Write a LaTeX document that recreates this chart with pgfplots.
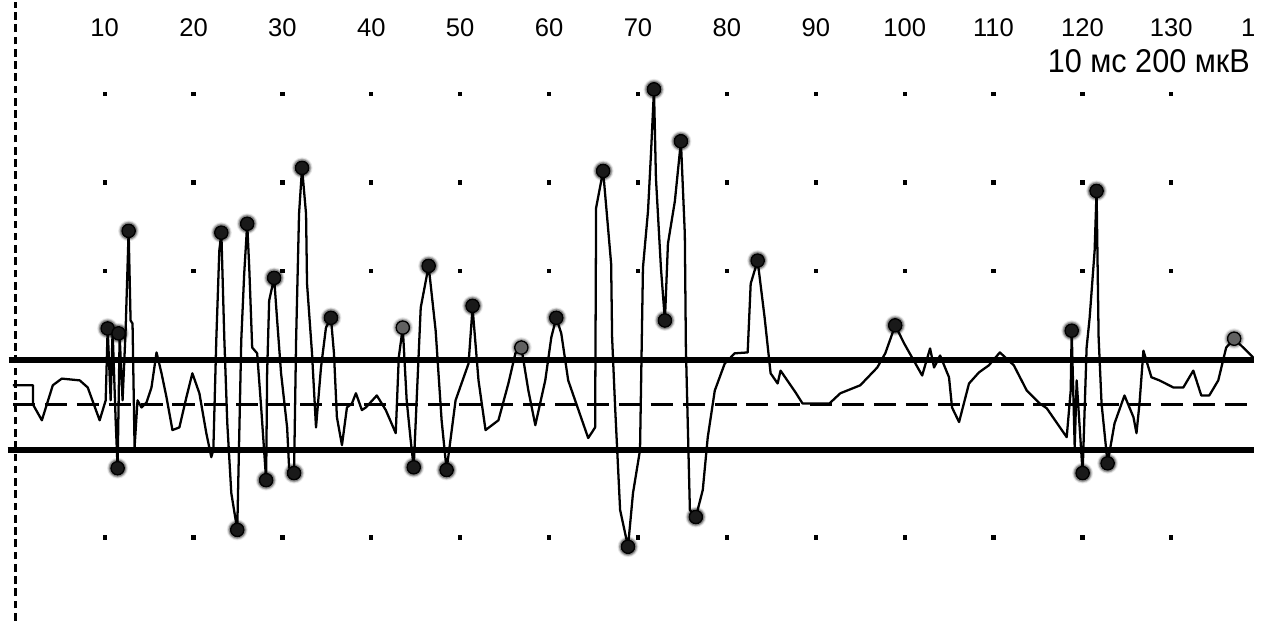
\documentclass[border=0pt]{standalone}
\usepackage{fontspec}
\setmainfont{Liberation Sans}
\usepackage{pgfplots}
\pgfplotsset{compat=1.18}
\usepackage{pgfplotstable}

% EMG trace: t in ms, v in microvolts
\pgfplotstableread{
t v
-0.31 43
1.93 43
1.93 0
2.94 -36
4.17 43
5.18 58
7.20 54
8.10 38
9.44 -36
10.12 9
10.34 171
10.68 9
10.90 166
11.24 -36
11.46 -144
11.69 155
12.02 9
12.36 166
12.70 391
12.92 189
13.14 182
13.37 -97
13.70 9
14.15 -7
14.71 4
15.27 38
15.84 117
16.40 70
16.96 16
17.63 -58
18.41 -52
19.20 16
19.87 70
20.66 25
21.44 -65
22.00 -119
22.23 -103
22.56 144
22.90 346
23.13 387
23.46 151
23.80 -43
24.25 -200
24.92 -283
25.37 144
25.70 294
26.04 407
26.27 308
26.60 128
27.16 115
27.61 -7
28.17 -171
28.28 70
28.51 234
29.07 285
29.41 189
29.85 70
30.53 -52
30.75 -142
31.31 -155
31.54 144
31.87 429
32.21 533
32.66 429
32.77 272
33.33 115
33.78 -52
34.34 83
34.90 173
35.46 195
35.80 115
36.13 -29
36.70 -92
37.26 -7
37.82 2
38.27 25
38.94 -13
39.39 -7
40.62 20
41.63 -13
42.75 -65
43.09 106
43.54 173
43.98 9
44.43 -81
44.77 -142
45.56 218
46.45 312
47.24 166
47.91 -36
48.47 -148
49.48 9
50.94 92
51.39 218
52.06 54
52.85 -58
54.30 -36
55.42 47
56.21 115
56.88 128
57.67 31
58.45 -47
59.57 54
60.25 151
60.81 195
61.37 160
62.15 54
64.40 -76
65.18 -52
65.29 443
66.08 526
66.98 317
67.09 151
67.43 -7
67.99 -238
68.88 -321
69.44 -200
70.23 -103
70.56 308
71.13 436
71.46 564
71.80 710
72.02 510
72.58 308
73.03 189
73.37 362
74.15 458
74.83 593
75.27 384
75.39 128
75.84 -238
76.51 -254
77.29 -193
77.85 -74
78.64 31
79.76 92
80.88 115
82.34 117
82.68 272
83.46 324
84.25 195
84.92 70
85.71 47
86.04 76
87.72 27
88.51 2
91.54 2
92.77 25
95.01 43
96.92 83
97.82 115
98.94 178
99.95 137
101.97 65
102.86 126
103.31 83
103.99 110
104.99 61
105.33 -7
106.12 -40
107.24 47
108.36 72
109.48 88
110.71 117
112.28 88
113.74 31
115.20 2
115.99 -9
118.23 -74
118.68 31
118.79 166
119.13 -97
119.35 54
120.02 -155
120.47 128
120.81 195
121.37 346
121.59 481
121.82 151
122.15 2
122.83 -133
123.61 -43
124.73 20
125.74 -29
126.08 -65
126.42 2
126.86 121
127.76 61
128.66 54
130.23 38
131.35 38
132.47 76
133.37 20
134.27 20
135.28 54
136.17 128
137.07 148
139.20 106
}\trace

% detected peaks (dark markers)
\pgfplotstableread{
t v
10.34 171
11.57 160
11.46 -144
12.70 391
23.13 387
24.92 -283
26.04 407
28.17 -171
29.07 285
31.31 -155
32.21 533
35.46 195
44.77 -142
46.45 312
48.47 -148
51.39 222
60.81 195
66.08 526
68.88 -321
71.80 710
73.03 189
74.83 593
76.51 -254
83.46 324
98.94 178
118.79 166
120.02 -155
121.59 481
122.83 -133
}\peaks

% detected peaks (lighter markers)
\pgfplotstableread{
t v
43.54 173
56.88 128
137.07 148
}\lightpeaks

% grid dots
\pgfplotstableread{
t v
10 700
20 700
30 700
40 700
50 700
60 700
70 700
80 700
90 700
100 700
110 700
120 700
130 700
10 500
20 500
30 500
40 500
50 500
60 500
70 500
80 500
90 500
100 500
110 500
120 500
130 500
10 300
20 300
30 300
40 300
50 300
60 300
70 300
80 300
90 300
100 300
110 300
120 300
130 300
10 -300
20 -300
30 -300
40 -300
50 -300
60 -300
70 -300
80 -300
90 -300
100 -300
110 -300
120 -300
130 -300
}\griddots

\begin{document}
\begin{tikzpicture}[lbl/.style={font=\fontsize{7.3pt}{8pt}\selectfont, anchor=center}]
\begin{axis}[
  scale only axis,
  width=12.67cm, height=6.21cm,
  xmin=-1.77, xmax=140.32,
  ymin=-487.6, ymax=907.9,
  hide axis,
  clip=false,
]
% invisible frame to fix the bounding box
\addplot[draw=none, forget plot] coordinates {(-1.77,-487.6) (140.32,907.9)};

% grid dots
\addplot[only marks, mark=square*, mark size=0.4pt, black, mark options={fill=black}] table {\griddots};

% vertical dashed line at t = 0
\addplot[black, line width=0.9pt, dash pattern=on 2.2pt off 1.3pt] coordinates {(0,-487.6) (0,907.9)};

% threshold lines +-100 uV
\addplot[black, line width=1.7pt] coordinates {(-0.8,100) (139.3,100)};
\addplot[black, line width=1.7pt] coordinates {(-0.9,-103) (139.3,-103)};
% baseline
\addplot[black, line width=0.7pt, dash pattern=on 6.3pt off 2.8pt] coordinates {(-0.3,0) (139.2,0)};

% trace
\addplot[black, line width=0.65pt, line join=round] table {\trace};

% peak markers (soft blob: halo layers + core)
\addplot[only marks, mark=*, mark size=2.8pt, draw=none, fill=black, opacity=0.08] table {\peaks};
\addplot[only marks, mark=*, mark size=2.4pt, draw=none, fill=black, opacity=0.25] table {\peaks};
\addplot[only marks, mark=*, mark size=1.9pt, draw=none, fill=black!90] table {\peaks};
\addplot[only marks, mark=*, mark size=2.8pt, draw=none, fill=black, opacity=0.06] table {\lightpeaks};
\addplot[only marks, mark=*, mark size=2.4pt, draw=none, fill=black, opacity=0.18] table {\lightpeaks};
\addplot[only marks, mark=*, mark size=1.9pt, draw=none, fill=black!62] table {\lightpeaks};

% time labels
\node[lbl] at (axis cs:10,848) {10};
\node[lbl] at (axis cs:20,848) {20};
\node[lbl] at (axis cs:30,848) {30};
\node[lbl] at (axis cs:40,848) {40};
\node[lbl] at (axis cs:50,848) {50};
\node[lbl] at (axis cs:60,848) {60};
\node[lbl] at (axis cs:70,848) {70};
\node[lbl] at (axis cs:80,848) {80};
\node[lbl] at (axis cs:90,848) {90};
\node[lbl] at (axis cs:100,848) {100};
\node[lbl] at (axis cs:110,848) {110};
\node[lbl] at (axis cs:120,848) {120};
\node[lbl] at (axis cs:130,848) {130};
\node[lbl] at (axis cs:138.65,848) {1};
\node[anchor=east, inner sep=0pt] at (axis cs:138.9,773) {\fontsize{9.4pt}{10pt}\selectfont\scalebox{0.93}[1]{10 мс 200 мкВ}};
\end{axis}
\end{tikzpicture}
\end{document}
